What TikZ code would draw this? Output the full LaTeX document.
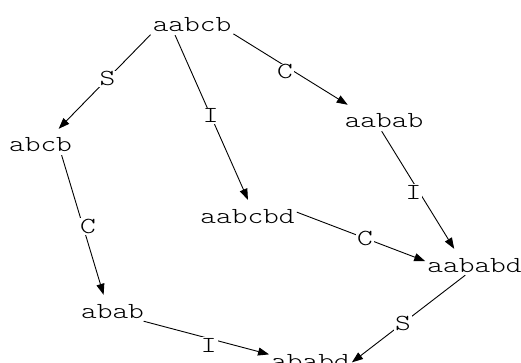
\documentclass[tikz,border=0pt]{standalone}
\usepackage{fontspec}
\setmonofont[FakeStretch=1.3]{Latin Modern Mono Light}
\usetikzlibrary{arrows.meta}
\tikzset{word node/.style={font=\ttfamily\fontsize{23}{28}\selectfont,inner xsep=2pt,inner ysep=0pt,text height=23pt,text depth=3pt,anchor=base}}
\tikzset{op label/.style={font=\ttfamily\fontsize{23}{28}\selectfont,fill=white,inner sep=1pt}}

\begin{document}
\begin{tikzpicture}[x=1pt,y=-1pt]
            \useasboundingbox (0,0) rectangle (521,363);

            \node[word node] (aabcb) at (192,32) {aabcb};
            \node[word node] (abcb) at (40.5,152) {abcb};
            \node[word node] (aabab) at (384,128) {aabab};
            \node[word node] (aabcbd) at (247.5,223) {aabcbd};
            \node[word node] (aababd) at (474.5,272) {aababd};
            \node[word node] (abab) at (112.5,318) {abab};
            \node[word node] (ababd) at (310.5,368) {ababd};

            \path[line width=0.9pt, -{Triangle[length=11pt,width=8pt]}]
            (aabcb.197) edge node[op label, pos=.47] {S} (abcb.36)
            (aabcb.218) edge node[op label, pos=.49] {I} (aabcbd.88)
            (aabcb.344) edge node[op label, pos=.45, yshift=-6pt] {C} (aabab.160)
            (abcb.328) edge node[op label, pos=.51, xshift=5pt] {C} (abab.124)
            (aabab.260) edge node[op label, pos=.52, xshift=-6pt] {I} (aababd.147)
            (aabcbd.1) edge node[op label, pos=.53] {C} (aababd.179)
            (abab.337) edge node[op label, pos=.52, yshift=-7pt] {I} (ababd.175)
            (aababd.235) edge node[op label, pos=.55] {S} (ababd.354);
        \end{tikzpicture}
\end{document}
